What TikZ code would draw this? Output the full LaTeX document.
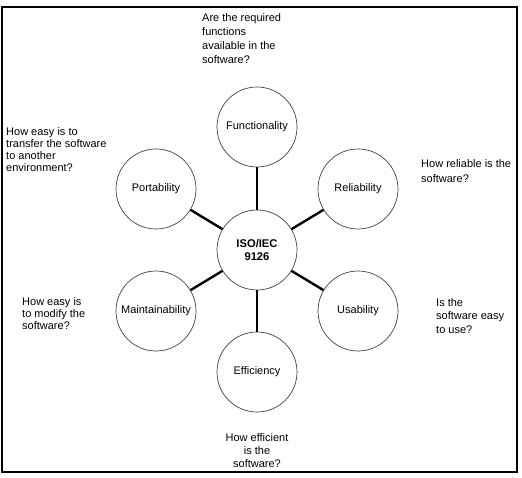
\documentclass[tikz,border=0pt]{standalone}
\usepackage{fontspec}
\setmainfont{Liberation Sans}
\begin{document}
\begin{tikzpicture}[x=1pt,y=-1pt,
  qual/.style={circle,draw=black!75,line width=0.7pt,minimum size=80pt,inner sep=0pt,font=\fontsize{11}{13}\selectfont},
  hub/.style={qual,font=\fontsize{11.2}{14}\selectfont\bfseries,align=center},
  conn/.style={line width=2.4pt,black},
  note/.style={inner sep=0pt,anchor=base west,align=left}]
\useasboundingbox (0,0) rectangle (522,478);
\draw[line width=2pt] (2,7) rectangle (517,472);
\node[hub] (c) at (257,250) {ISO/IEC\\[-1.5pt]9126};
\node[qual] (f) at (257,127) {Functionality};
\node[qual] (r) at (358,189) {Reliability};
\node[qual] (u) at (358,311) {Usability};
\node[qual] (e) at (257,372) {Efficiency};
\node[qual] (m) at (156,311) {Maintainability};
\node[qual] (p) at (156,189) {Portability};
\foreach \s in {f,r,u,e,m,p} \draw[conn] (c) -- (\s);
\node[note,font=\fontsize{11}{14.3}\selectfont] (tf) at (202,64) {Are the required\\functions\\available in the\\software?};
\node[note,font=\fontsize{11}{12.3}\selectfont] (tp) at (6,172) {How easy is to\\transfer the software\\to another\\environment?};
\node[note,font=\fontsize{11}{15}\selectfont] (tr) at (421,183) {How reliable is the\\software?};
\node[note,font=\fontsize{11}{12}\selectfont] (tm) at (22,329) {How easy is\\to modify the\\software?};
\node[note,font=\fontsize{11}{14}\selectfont] (tu) at (436,334) {Is the\\software easy\\to use?};
\node[inner sep=0pt,anchor=base,align=center,font=\fontsize{11}{13}\selectfont] (te) at (257,467) {How efficient\\is the\\software?};
\end{tikzpicture}
\end{document}
